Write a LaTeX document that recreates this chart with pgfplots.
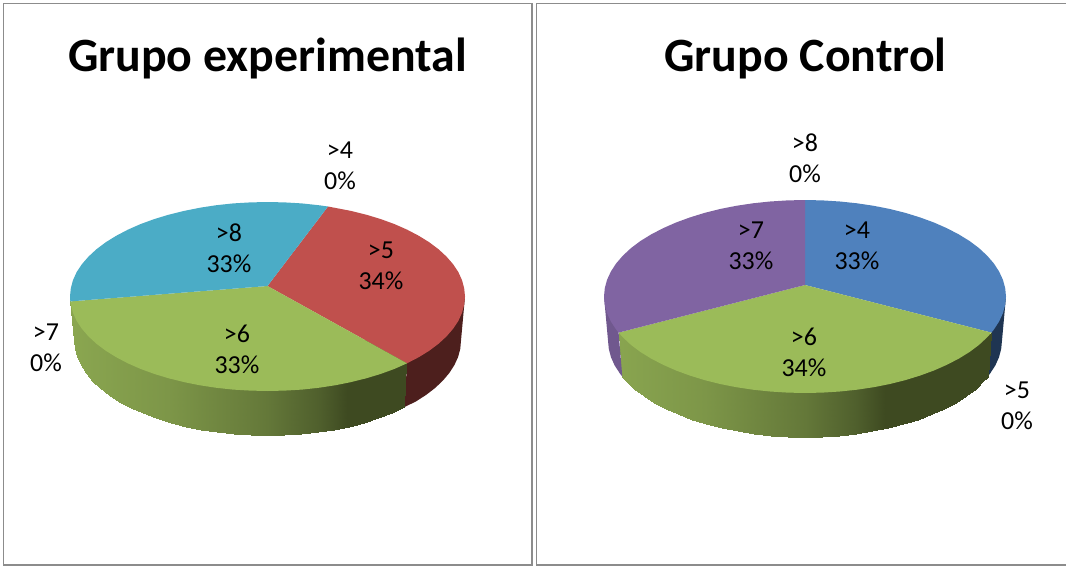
\documentclass[border=0pt]{standalone}
\usepackage{fontspec}
\setmainfont{Carlito}
\usepackage{pgfplots}
\pgfplotsset{compat=1.18}

\definecolor{sliceBlue}{HTML}{4F81BD}
\definecolor{sliceRed}{HTML}{C0504D}
\definecolor{sliceGreen}{HTML}{9BBB59}
\definecolor{slicePurple}{HTML}{8064A2}
\definecolor{sliceTeal}{HTML}{4BACC6}
\definecolor{panelLine}{HTML}{8C8C8C}

% Outline of the left pie: upper face and lower rim, in drawing units.
\pgfplotstableread{
x y
267.5 286
328 206.5
351 210.9
366.3 214.7
380.8 219.1
394.5 224.1
407.2 229.7
418.8 235.8
429.3 242.3
438.5 249.2
446.5 256.6
453.1 264.2
458.3 272
462 280.1
464.2 288.3
465 296.5
464.2 304.7
462 312.9
458.3 321
453.1 328.8
446.5 336.4
438.5 343.8
429.3 350.7
418.8 357.2
407 363.3
}\leftFiveTop
\pgfplotstableread{
x y
267.5 286
407 363.3
394.5 368.9
380.8 373.9
366.3 378.3
351 382.1
335 385.3
318.6 387.8
301.8 389.6
284.7 390.6
267.5 391
250.3 390.6
233.2 389.6
216.4 387.8
200 385.3
184 382.1
168.7 378.3
154.2 373.9
140.5 368.9
127.8 363.3
116.2 357.2
105.7 350.7
96.5 343.8
88.5 336.4
81.9 328.8
76.7 321
73 312.9
70.8 304.7
70.3 301.4
}\leftSixTop
\pgfplotstableread{
x y
267.5 286
70.3 301.4
70 296.5
70.8 288.3
73 280.1
76.7 272
81.9 264.2
88.5 256.6
96.5 249.2
105.7 242.3
116.2 235.8
127.8 229.7
140.5 224.1
154.2 219.1
168.7 214.7
184 210.9
200 207.7
216.4 205.2
233.2 203.4
250.3 202.4
267.5 202
284.7 202.4
301.8 203.4
318.6 205.2
328 206.5
}\leftEightTop
\pgfplotstableread{
x y
465 296.5
461 340.5
460.3 348.8
458.1 357
454.4 365.1
449.3 373
442.9 380.6
435.1 388
426 395
415.7 401.6
404.5 407
407 363.3
}\leftFiveRim
% green rim of the left pie: upper row, then lower row; m is the shade position
\pgfplotstableread{
x y m
407.5 340 137
391.9 340 124
378.5 340 111
364.3 340 97
349.3 340 82
333.7 340 66
317.6 340 50
301.1 340 34
284.4 340 17
267.5 340 0
250.6 340 -17
233.9 340 -34
217.4 340 -50
201.3 340 -66
185.7 340 -82
170.7 340 -97
156.5 340 -111
143.1 340 -124
130.7 340 -137
119.3 340 -148
109 340 -158.5
99.9 340 -168
92.1 335 -175
85.7 328 -182
80.6 320 -187
76.9 312 -191
74.7 305 -193
70.3 301.4 -195
404.5 407 137
391.9 413.3 124
378.5 418.3 111
364.3 422.8 97
349.3 426.6 82
333.7 429.8 66
317.6 432.3 50
301.1 434.1 34
284.4 435.1 17
267.5 435.5 0
250.6 435.1 -17
233.9 434.1 -34
217.4 432.3 -50
201.3 429.8 -66
185.7 426.6 -82
170.7 422.8 -97
156.5 418.3 -111
143.1 413.3 -124
130.7 407.7 -137
119.3 401.6 -148
109 395 -158.5
99.9 388 -168
92.1 380.6 -175
85.7 373 -182
80.6 365.1 -187
76.9 357 -191
74.7 348.8 -193
74 340.5 -195
}\leftSixRim

% Outline of the right pie.
\pgfplotstableread{
x y
805 285
805 200
822.5 200.4
839.9 201.5
857 203.3
873.7 205.8
889.9 209
905.5 212.9
920.3 217.5
934.2 222.6
947.1 228.3
959 234.5
969.7 241.1
979.1 248.2
987.2 255.7
993.9 263.5
999.1 271.5
1002.9 279.7
1005.2 288.1
1006 296.5
1005.2 304.9
1002.9 313.3
999.1 321.5
993.9 329.5
991.4 332.6
}\rightFourTop
\pgfplotstableread{
x y
805 285
991.4 332.6
987.2 337.3
979.1 344.8
969.7 351.9
959 358.5
947.1 364.7
934.2 370.4
920.3 375.5
905.5 380.1
889.9 384
873.7 387.2
857 389.7
839.9 391.5
822.5 392.6
805 393
787.5 392.6
770.1 391.5
753 389.7
736.3 387.2
720.1 384
704.5 380.1
689.7 375.5
675.8 370.4
662.9 364.7
651 358.5
640.3 351.9
630.9 344.8
622.8 337.3
618.6 332.6
}\rightSixTop
\pgfplotstableread{
x y
805 285
618.6 332.6
616.1 329.5
610.9 321.5
607.1 313.3
604.8 304.9
604 296.5
604.8 288.1
607.1 279.7
610.9 271.5
616.1 263.5
622.8 255.7
630.9 248.2
640.3 241.1
651 234.5
662.9 228.3
675.8 222.6
689.7 217.5
704.5 212.9
720.1 209
736.3 205.8
753 203.3
770.1 201.5
787.5 200.4
805 200
}\rightSevenTop
\pgfplotstableread{
x y
1006 296.5
1002 340.5
1001.2 348.9
999 357.3
995.3 365.5
990.1 373.5
987.7 376.6
991.4 332.6
}\rightFourRim
% green rim of the right pie: upper row, then lower row
\pgfplotstableread{
x y m
991.4 332.6 183
983.5 338 178.5
975.6 340 171
966.4 340 161
955.9 340 151
944.3 340 139
931.6 340 127
918 340 113
903.5 340 99
888.3 340 83
872.4 340 67
856 340 51
839.2 340 34
822.2 340 17
805 340 0
787.8 340 -17
770.8 340 -34
754 340 -51
737.6 340 -67
721.7 340 -83
706.5 340 -99
692 340 -113
678.4 340 -127
665.7 340 -139
654.1 340 -151
643.6 340 -161
634.4 340 -171
626.5 338 -178.5
618.6 332.6 -183
987.7 376.6 183
983.5 381.3 178.5
975.6 388.8 171
966.4 395.9 161
955.9 402.5 151
944.3 408.7 139
931.6 414.4 127
918 419.5 113
903.5 424.1 99
888.3 428 83
872.4 431.2 67
856 433.7 51
839.2 435.5 34
822.2 436.6 17
805 437 0
787.8 436.6 -17
770.8 435.5 -34
754 433.7 -51
737.6 431.2 -67
721.7 428 -83
706.5 424.1 -99
692 419.5 -113
678.4 414.4 -127
665.7 408.7 -139
654.1 402.5 -151
643.6 395.9 -161
634.4 388.8 -171
626.5 381.3 -178.5
622.3 376.6 -183
}\rightSixRim
\pgfplotstableread{
x y
618.6 332.6
622.3 376.6
619.9 373.5
614.7 365.5
611 357.3
608.8 348.9
608 340.5
604 296.5
}\rightSevenRim

\newcommand{\pielabel}[3]{\node[align=center,font=\fontsize{26}{31}\selectfont,text=black,inner sep=0pt] at (axis cs:#1,#2) {#3};}

\begin{document}
\begin{tikzpicture}
\begin{axis}[
  scale only axis, width=1066bp, height=566bp,
  xmin=0, xmax=1066, ymin=0, ymax=566, y dir=reverse,
  hide axis, clip=true,
  colormap={rimgreen}{
    rgb255(-195)=(138,166,80)
    rgb255(-100)=(125,150,72)
    rgb255(0)=(100,120,57)
    rgb255(50)=(80,96,45)
    rgb255(80)=(62,74,33)
    rgb255(200)=(62,74,33)},
  point meta min=-195, point meta max=200]

% panel frames
\addplot[panelLine, line width=1.8pt] coordinates {(3.5,566) (3.5,3.5) (532,3.5) (532,566)};
\addplot[panelLine, line width=1.2pt] coordinates {(3.5,565) (532,565)};
\addplot[panelLine, line width=1.8pt] coordinates {(536.5,566) (536.5,3.5) (1066,3.5)};
\addplot[panelLine, line width=1.2pt] coordinates {(536.5,565) (1066,565)};

% left pie
\addplot[draw=none, fill={rgb,255:red,77;green,31;blue,29}] table {\leftFiveRim} -- cycle;
\addplot[surf, shader=interp, mesh/rows=2, point meta=explicit] table[meta=m] {\leftSixRim};
\addplot[draw=none, fill=sliceRed] table {\leftFiveTop} -- cycle;
\addplot[draw=none, fill=sliceGreen] table {\leftSixTop} -- cycle;
\addplot[draw=none, fill=sliceTeal] table {\leftEightTop} -- cycle;

% right pie
\addplot[draw=none, fill={rgb,255:red,31;green,53;blue,82}] table {\rightFourRim} -- cycle;
\addplot[surf, shader=interp, mesh/rows=2, point meta=explicit] table[meta=m] {\rightSixRim};
\addplot[draw=none, fill={rgb,255:red,112;green,88;blue,142}] table {\rightSevenRim} -- cycle;
\addplot[draw=none, fill=sliceBlue] table {\rightFourTop} -- cycle;
\addplot[draw=none, fill=sliceGreen] table {\rightSixTop} -- cycle;
\addplot[draw=none, fill=slicePurple] table {\rightSevenTop} -- cycle;

% titles
\node[font=\fontsize{48}{54}\selectfont\bfseries, inner sep=0pt] at (axis cs:267.5,58) {Grupo experimental};
\node[font=\fontsize{48}{54}\selectfont\bfseries, inner sep=0pt] at (axis cs:805.5,58) {Grupo Control};

% slice labels
\pielabel{340}{166}{>4\\0\%}
\pielabel{229}{248}{>8\\33\%}
\pielabel{381}{266}{>5\\34\%}
\pielabel{237}{349}{>6\\33\%}
\pielabel{46}{348}{>7\\0\%}
\pielabel{805}{158}{>8\\0\%}
\pielabel{751}{246}{>7\\33\%}
\pielabel{857}{246}{>4\\33\%}
\pielabel{804}{352}{>6\\34\%}
\pielabel{1017}{406}{>5\\0\%}
\end{axis}
\pgfresetboundingbox
\path[use as bounding box] (0,0) rectangle (1066bp,566bp);
\end{tikzpicture}
\end{document}
